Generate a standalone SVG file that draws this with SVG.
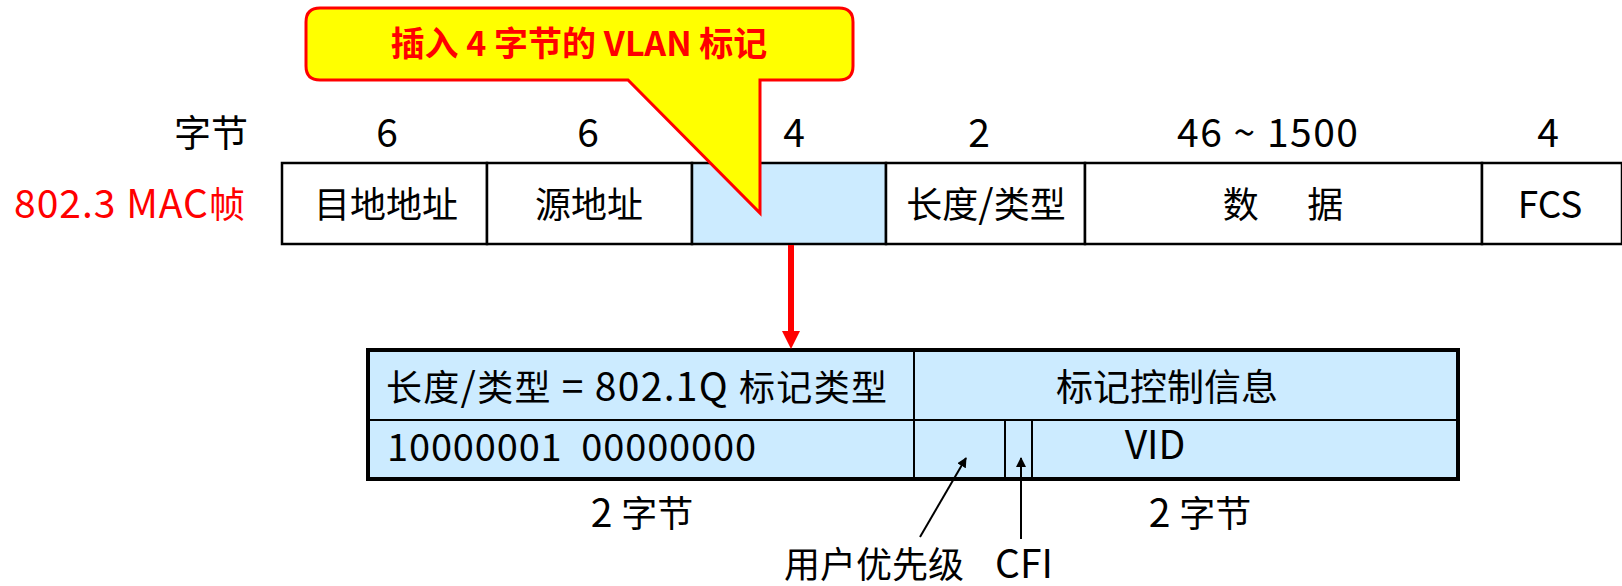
<svg xmlns="http://www.w3.org/2000/svg" width="1622" height="586" viewBox="0 0 1622 586">
<style>
.t{font-family:"Microsoft YaHei","Noto Sans CJK SC","Noto Sans",sans-serif;font-size:36px;fill:#000}
.L{font-size:39px}
.c{text-anchor:middle}
.cell{stroke:#000;stroke-width:2.5}
.w{fill:#fff}
.b{fill:#CCEBFF}
.thin{stroke:#000;stroke-width:2;fill:none}
</style>
<defs>
<marker id="ah" viewBox="0 0 10 10" refX="9" refY="5" markerWidth="10" markerHeight="10" markerUnits="userSpaceOnUse" orient="auto">
<path d="M0,0 L10,5 L0,10 Z" fill="#000"/>
</marker>
</defs>

<g id="labels">
<text class="t" x="248" y="147" text-anchor="end" style="font-size:37px">字节</text>
<text class="t" x="14" y="218" style="fill:#ff0000" textLength="231"><tspan class="L">802.3 MAC</tspan>帧</text>
<text class="t c L" x="387" y="147">6</text>
<text class="t c L" x="588" y="147">6</text>
<text class="t c L" x="794" y="147">4</text>
<text class="t c L" x="979" y="147">2</text>
<text class="t L" x="1177" y="147" textLength="181">46 ~ 1500</text>
<text class="t c L" x="1548" y="147">4</text>
</g>

<g id="mac-frame">
<rect class="cell w" x="282" y="163" width="205" height="81"/>
<rect class="cell w" x="487" y="163" width="205" height="81"/>
<rect class="cell b" x="692" y="163" width="194" height="81"/>
<rect class="cell w" x="886" y="163" width="199" height="81"/>
<rect class="cell w" x="1085" y="163" width="397" height="81"/>
<rect class="cell w" x="1482" y="163" width="140" height="81"/>
<text class="t c" x="386" y="218">目地地址</text>
<text class="t c" x="589" y="218">源地址</text>
<text class="t c" x="986" y="218">长度<tspan class="L">/</tspan>类型</text>
<text class="t c" x="1283" y="218" xml:space="preserve">数      据</text>
<text class="t c" x="1550" y="218" style="font-size:37px">FCS</text>
</g>

<g id="callout">
<path d="M320,8 H839 Q853,8 853,22 V66 Q853,80 839,80 H760 L760,213 L628,80 H320 Q306,80 306,66 V22 Q306,8 320,8 Z" fill="#ffff00" stroke="#ff0000" stroke-width="3"/>
<text x="579" y="56" text-anchor="middle" font-family="'Microsoft YaHei','Noto Sans CJK SC','Noto Sans',sans-serif" font-size="34" font-weight="bold" fill="#ff0000">插入 4 字节的 VLAN 标记</text>
</g>

<g id="vlan-tag">
<rect x="368" y="350" width="1090" height="129" fill="#CCEBFF" stroke="#000" stroke-width="4"/>
<line class="thin" x1="368" y1="420" x2="1458" y2="420"/>
<line class="thin" x1="914" y1="350" x2="914" y2="479"/>
<line class="thin" x1="1005" y1="420" x2="1005" y2="479"/>
<line class="thin" x1="1032" y1="420" x2="1032" y2="479"/>
<text class="t" x="386" y="401" textLength="501">长度<tspan class="L">/</tspan>类型<tspan class="L" xml:space="preserve"> = 802.1Q </tspan>标记类型</text>
<text class="t" x="387" y="461" xml:space="preserve" style="font-size:38px" textLength="369">10000001  00000000</text>
<text class="t c" x="1167" y="401" style="font-size:37px">标记控制信息</text>
<text class="t c L" x="1155" y="459">VID</text>
</g>

<g id="bottom-labels">
<text class="t c" x="642" y="527"><tspan class="L">2 </tspan>字节</text>
<text class="t c" x="1200" y="527"><tspan class="L">2 </tspan>字节</text>
<text class="t" x="784" y="578">用户优先级</text>
<text class="t L" x="995" y="578">CFI</text>
</g>

<g id="connectors">
<line x1="791" y1="245" x2="791" y2="333" stroke="#ff0000" stroke-width="6"/>
<polygon points="782,331 800,331 791,349" fill="#ff0000"/>
<line x1="920" y1="537" x2="966" y2="458" stroke="#000" stroke-width="2" marker-end="url(#ah)"/>
<line x1="1021" y1="539" x2="1021" y2="458" stroke="#000" stroke-width="2" marker-end="url(#ah)"/>
</g>
</svg>
